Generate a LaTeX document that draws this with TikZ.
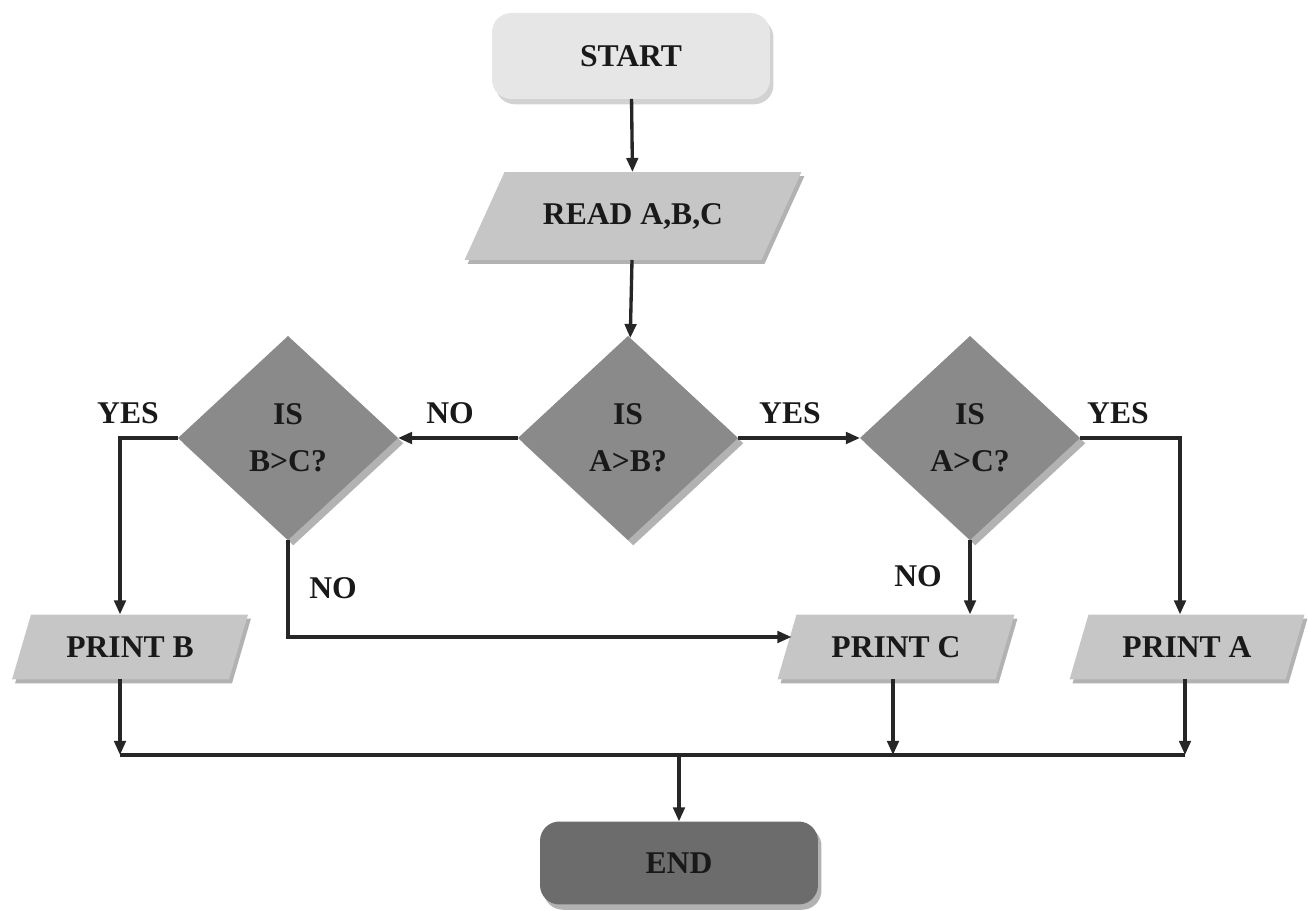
\documentclass[tikz,border=0pt]{standalone}
\usepackage{fontspec}
\setmainfont{Liberation Serif}
\usetikzlibrary{shapes.geometric,shadows,arrows.meta,calc,backgrounds}
\definecolor{startc}{HTML}{E6E6E6}
\definecolor{ioc}{HTML}{C6C6C6}
\definecolor{decc}{HTML}{8A8A8A}
\definecolor{endc}{HTML}{6C6C6C}
\definecolor{shadc}{HTML}{B2B2B2}
\definecolor{lshadc}{HTML}{D2D2D2}
\definecolor{linec}{HTML}{262626}
\newcommand{\myparallel}[2]{% node name, slant (px)
  \fill[shadc] ($(#1.south west)+(3,4)$) -- ($(#1.north west)+(#2+3,4)$) -- ($(#1.north east)+(3,4)$) -- ($(#1.south east)+(-#2+3,4)$) -- cycle;
  \fill[ioc] (#1.south west) -- ($(#1.north west)+(#2,0)$) -- (#1.north east) -- ($(#1.south east)+(-#2,0)$) -- cycle;
}
\begin{document}
\begin{tikzpicture}[x=0.02cm,y=-0.02cm,
  base/.style={font=\bfseries\fontsize{18}{27}\selectfont, text=black!90, inner sep=0pt, outer sep=0pt, align=center},
  term/.style={base, rounded corners=11pt, minimum width=5.56cm, minimum height=1.72cm},
  iobox/.style={base, rectangle},
  decbox/.style={base, diamond, aspect=1.08, minimum width=4.4cm, minimum height=4.08cm, fill=decc,
     drop shadow={shadow xshift=3pt, shadow yshift=-3pt, fill=shadc, opacity=1}},
  lbl/.style={font=\bfseries\fontsize{18}{20}\selectfont, text=black!90, inner sep=0pt},
  conn/.style={draw=linec, line width=1.9pt},
  arr/.style={conn, -{Triangle[length=8pt,width=6.5pt]}}
]
\useasboundingbox (0,0) rectangle (1309,911);

% nodes
\node[term, fill=startc, drop shadow={shadow xshift=2pt, shadow yshift=-3pt, fill=lshadc, opacity=1}] (start) at (631,56) {START};
\node[iobox, minimum width=6.74cm, minimum height=1.76cm] (read) at (633,216) {READ A,B,C};
\node[decbox] (ab) at (628,438) {IS\\A>B?};
\node[decbox] (bc) at (288,438) {IS\\B>C?};
\node[decbox] (ac) at (970,438) {IS\\A>C?};
\node[iobox, minimum width=4.72cm, minimum height=1.3cm] (printb) at (130,647) {PRINT B};
\node[iobox, minimum width=4.74cm, minimum height=1.3cm] (printc) at (896,647) {PRINT C};
\node[iobox, minimum width=4.7cm, minimum height=1.3cm] (printa) at (1187,647) {PRINT A};
\node[term, fill=endc, minimum height=1.66cm, drop shadow={shadow xshift=2pt, shadow yshift=-3pt, fill=shadc, opacity=1}] (end) at (679,863) {END};

\begin{scope}[on background layer]
  \myparallel{read}{40}
  \myparallel{printb}{19}
  \myparallel{printc}{19}
  \myparallel{printa}{19}
\end{scope}

% labels
\node[lbl] (l1) at (128,413) {YES};
\node[lbl] (l2) at (450,413) {NO};
\node[lbl] (l3) at (790,413) {YES};
\node[lbl] (l4) at (1118,413) {YES};
\node[lbl] (l5) at (333,588) {NO};
\node[lbl] (l6) at (918,576) {NO};

% connectors
\draw[arr] (start) -- (read);
\draw[arr] (read) -- (ab);
\draw[arr] (ab) -- (ac);
\draw[arr] (ab) -- (bc);
\draw[arr] (bc.west) -| ($(printb.north)+(-10,0)$);
\draw[arr] (bc.south) |- ($(printc.west)+(14,-10)$);
\draw[arr] (ac.south) -- (ac.south |- printc.north);
\draw[arr] (ac.east) -| ($(printa.north)+(-7,0)$);

\coordinate (busL) at (120,755);
\coordinate (busR) at (1185,755);
\draw[conn] (busL) -- (busR);
\draw[arr] ($(printb.south)+(-10,0)$) -- ($(printb.south |- busL)+(-10,0)$);
\draw[arr] ($(printc.south)+(-3,0)$) -- ($(printc.south |- busL)+(-3,0)$);
\draw[arr] ($(printa.south)+(-2,0)$) -- ($(printa.south |- busL)+(-2,0)$);
\draw[arr] (end.north |- busL) -- (end);
\end{tikzpicture}
\end{document}
